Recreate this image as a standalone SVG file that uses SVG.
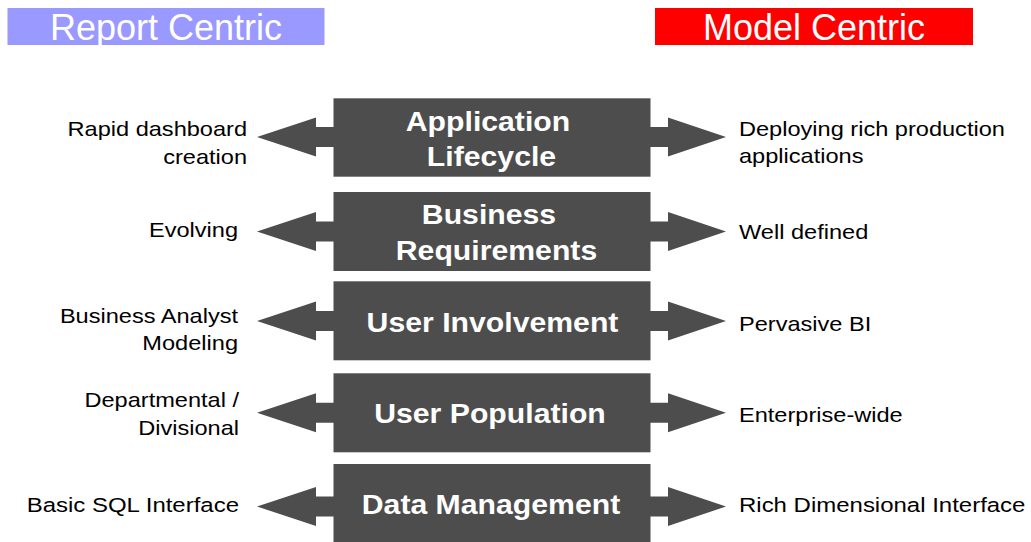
<svg xmlns="http://www.w3.org/2000/svg" xmlns:xlink="http://www.w3.org/1999/xlink" width="1031" height="542" viewBox="0 0 1031 542">
<style>
.box{fill:#4d4d4d}
.arr{fill:#4d4d4d}
.ttl{font-family:"Liberation Sans",Arial,sans-serif;font-weight:bold;font-size:28.5px;fill:#ffffff;text-anchor:middle}
.lbl{font-family:"Liberation Sans",Arial,sans-serif;font-size:20.5px;fill:#000000}
.l{text-anchor:end}
.r{text-anchor:start}
.hdr{font-family:"Liberation Sans",Arial,sans-serif;font-size:36px;fill:#ffffff;text-anchor:middle}
</style>
<defs>
<path id="dbl" d="M257,0 L316,-19.5 L316,-10 L334,-10 L334,10 L316,10 L316,19.5 Z M650,-10 L668,-10 L668,-19.5 L726,0 L668,19.5 L668,10 L650,10 Z"/>
</defs>
<rect width="1031" height="542" fill="#ffffff"/>
<g id="header-report">
<rect x="7.5" y="8" width="317" height="37" fill="#9999ff"/>
<text class="hdr" x="166" y="40">Report Centric</text>
</g>
<g id="header-model">
<rect x="655" y="8" width="318" height="37" fill="#ff0000"/>
<text class="hdr" x="814" y="40">Model Centric</text>
</g>
<g id="connectors">
<use xlink:href="#dbl" class="arr" y="137"/>
<use xlink:href="#dbl" class="arr" y="231.5"/>
<use xlink:href="#dbl" class="arr" y="321"/>
<use xlink:href="#dbl" class="arr" y="412.8"/>
<use xlink:href="#dbl" class="arr" y="506.5"/>
</g>
<g id="node-application-lifecycle">
<rect class="box" x="333.5" y="98.3" width="317" height="78.4"/>
<text class="ttl" transform="translate(488,131) scale(1.06,1)">Application</text>
<text class="ttl" transform="translate(491.5,166) scale(1.06,1)">Lifecycle</text>
</g>
<g id="node-business-requirements">
<rect class="box" x="333.5" y="192" width="317" height="79"/>
<text class="ttl" transform="translate(489,224) scale(1.06,1)">Business</text>
<text class="ttl" transform="translate(496.5,260) scale(1.06,1)">Requirements</text>
</g>
<g id="node-user-involvement">
<rect class="box" x="333.5" y="281.3" width="317" height="79"/>
<text class="ttl" transform="translate(492.5,332) scale(1.06,1)">User Involvement</text>
</g>
<g id="node-user-population">
<rect class="box" x="333.5" y="373.3" width="317" height="79"/>
<text class="ttl" transform="translate(490,423) scale(1.06,1)">User Population</text>
</g>
<g id="node-data-management">
<rect class="box" x="333.5" y="464" width="317" height="85"/>
<text class="ttl" transform="translate(491,513.5) scale(1.06,1)">Data Management</text>
</g>
<g id="labels-report">
<text class="lbl l" transform="translate(247,136) scale(1.15,1)">Rapid dashboard</text>
<text class="lbl l" transform="translate(247,163.5) scale(1.15,1)">creation</text>
<text class="lbl l" transform="translate(238,236.7) scale(1.15,1)">Evolving</text>
<text class="lbl l" transform="translate(238,322.7) scale(1.15,1)">Business Analyst</text>
<text class="lbl l" transform="translate(238,350) scale(1.15,1)">Modeling</text>
<text class="lbl l" transform="translate(239,406.7) scale(1.15,1)">Departmental /</text>
<text class="lbl l" transform="translate(239,435) scale(1.15,1)">Divisional</text>
<text class="lbl l" transform="translate(239,511.7) scale(1.17,1)">Basic SQL Interface</text>
</g>
<g id="labels-model">
<text class="lbl r" transform="translate(739,136) scale(1.15,1)">Deploying rich production</text>
<text class="lbl r" transform="translate(739,163) scale(1.15,1)">applications</text>
<text class="lbl r" transform="translate(739,239) scale(1.15,1)">Well defined</text>
<text class="lbl r" transform="translate(739,330.7) scale(1.15,1)">Pervasive BI</text>
<text class="lbl r" transform="translate(739,421.7) scale(1.15,1)">Enterprise-wide</text>
<text class="lbl r" transform="translate(739,512.3) scale(1.17,1)">Rich Dimensional Interface</text>
</g>
</svg>
